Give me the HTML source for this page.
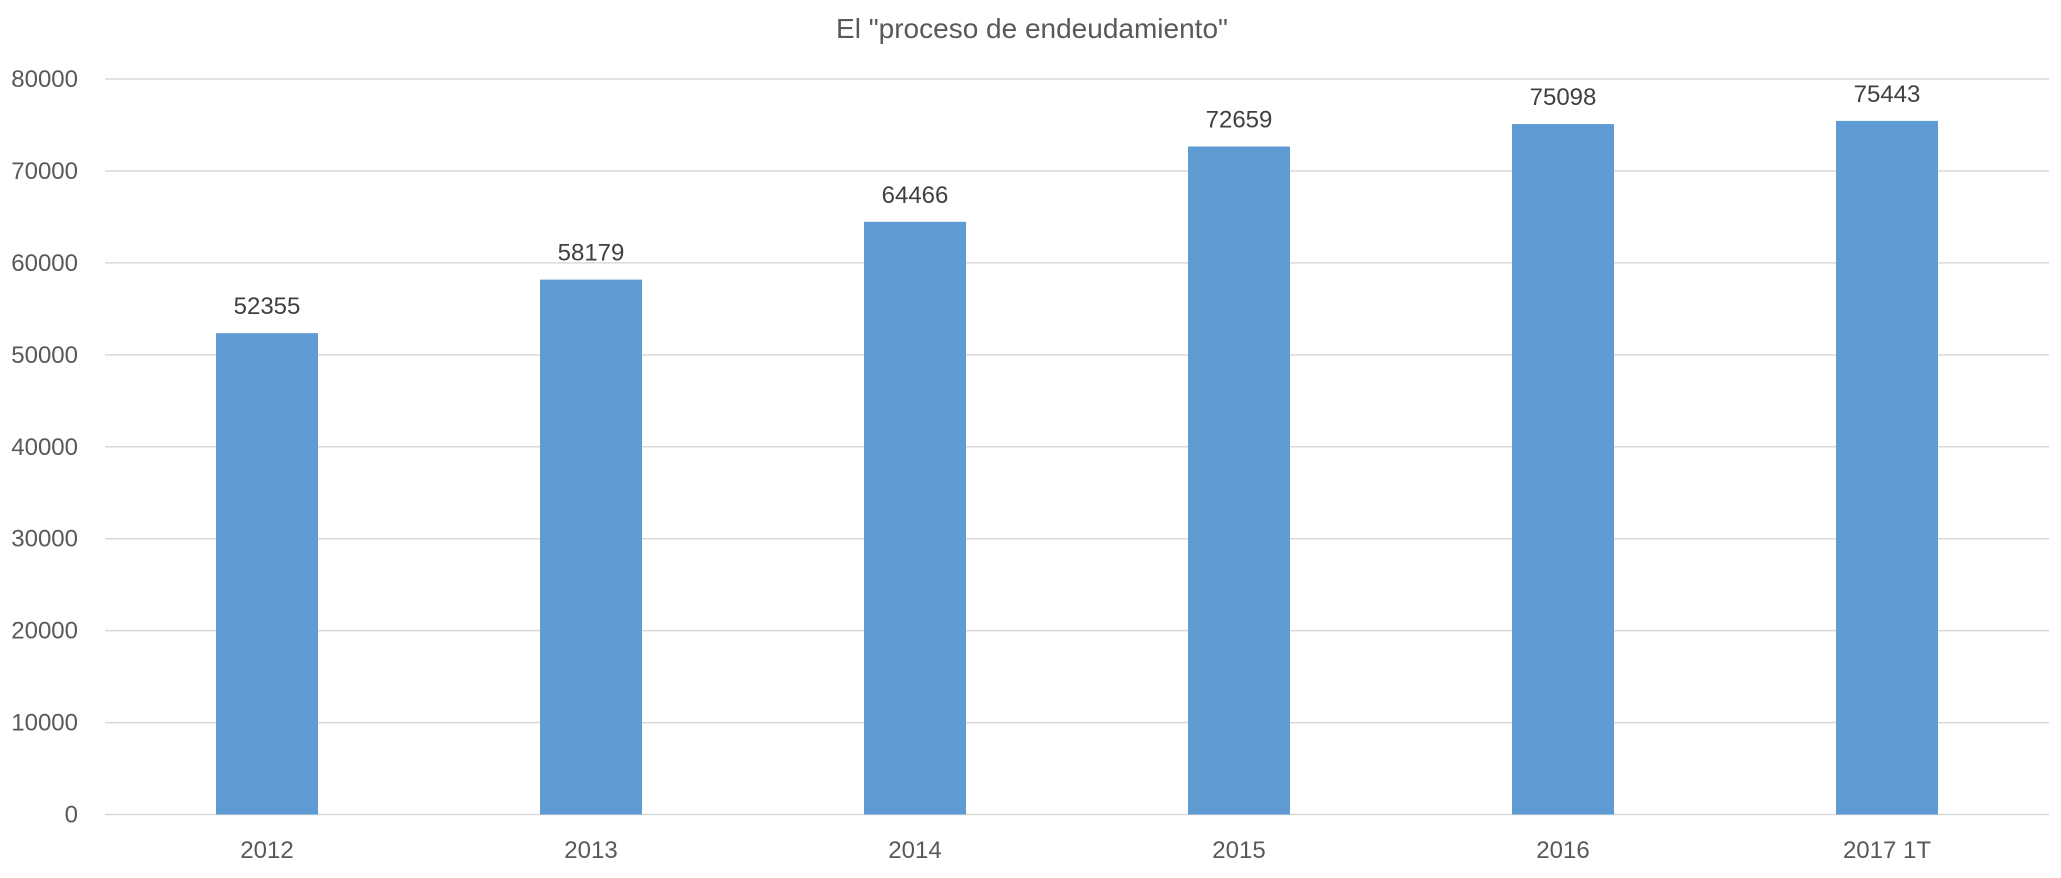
<!DOCTYPE html>
<html><head><meta charset="utf-8"><style>
html,body{margin:0;padding:0;background:#fff;}
svg{display:block;font-family:"Liberation Sans",sans-serif;}
</style></head><body>
<svg id="chart" width="2061" height="878" viewBox="0 0 2061 878">
<text x="1032" y="38" text-anchor="middle" font-size="28" fill="#595959">El "proceso de endeudamiento"</text>
<g id="grid"></g>
<g id="yticks"></g>
<g id="bars"></g>
<g id="xlabels"></g>
</svg>
<script>
const categories = ["2012","2013","2014","2015","2016","2017 1T"];
const values = [52355,58179,64466,72659,75098,75443];
const yTicks = [0,10000,20000,30000,40000,50000,60000,70000,80000];
const yMax = 80000;
const NS="http://www.w3.org/2000/svg";
const L=105,R=2049,Y0=814.5,Y1=79;
const y=v=>Y0-(v/yMax)*(Y0-Y1);
const bw=(R-L)/categories.length;
const x=i=>L+bw*(i+0.5);
function mk(t,a,p){const e=document.createElementNS(NS,t);for(const k in a)e.setAttribute(k,a[k]);p.appendChild(e);return e;}
const g=document.getElementById('grid'),yt=document.getElementById('yticks'),b=document.getElementById('bars'),xl=document.getElementById('xlabels');
yTicks.forEach(v=>{
  const ln=mk('line',{x1:L,x2:R,y1:y(v),y2:y(v),stroke:'#d9d9d9','stroke-width':1.5},g);
  
  
  const t=mk('text',{x:78,y:y(v)+8,'text-anchor':'end','font-size':24,fill:'#595959'},yt);
  t.textContent=v;
  
  
});
const barW=102;
values.forEach((v,i)=>{
  const r=mk('rect',{x:x(i)-barW/2,y:y(v),width:barW,height:Y0-y(v),fill:'#5e9bd3'},b);
  
  
  const t=mk('text',{x:x(i),y:y(v)-19,'text-anchor':'middle','font-size':24,fill:'#404040'},b);
  t.textContent=v;
  
  
  const c=mk('text',{x:x(i),y:858,'text-anchor':'middle','font-size':24,fill:'#595959'},xl);
  c.textContent=categories[i];
  
  
});
</script>
</body></html>
